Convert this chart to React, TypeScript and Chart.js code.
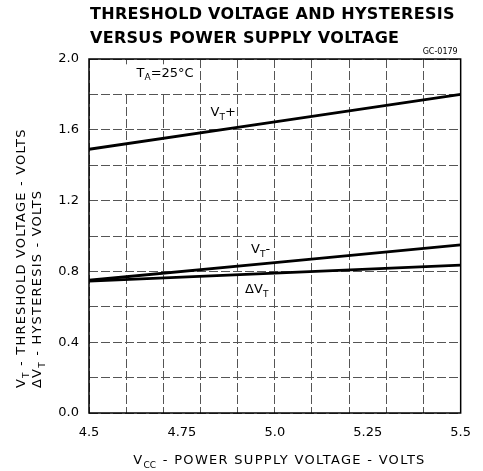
import React, { useEffect, useRef } from 'react';
import { Chart, registerables } from 'chart.js';
Chart.register(...registerables);

// ---- data ----
const vccPoints = [4.5, 5.0, 5.5];
const vtPlus = [1.49, 1.645, 1.8];
const vtMinus = [0.75, 0.85, 0.95];
const deltaVt = [0.745, 0.79, 0.835];

const xTickValues = [4.5, 4.75, 5.0, 5.25, 5.5];
const xTickLabels = ['4.5', '4.75', '5.0', '5.25', '5.5'];
const xGridValues = [4.5, 4.6, 4.7, 4.8, 4.9, 5.0, 5.1, 5.2, 5.3, 5.4, 5.5];
const yTickValues = [0, 0.4, 0.8, 1.2, 1.6, 2.0];
const yTickLabels = ['0.0', '0.4', '0.8', '1.2', '1.6', '2.0'];

const titleLines = ['THRESHOLD VOLTAGE AND HYSTERESIS', 'VERSUS POWER SUPPLY VOLTAGE'];

const FONT = '"DejaVu Sans", sans-serif';

type Seg = { t: string; sub?: boolean };

function setSpacing(ctx: any, sp: number) {
  if ('letterSpacing' in ctx) ctx.letterSpacing = `${sp}px`;
}

function richWidth(ctx: CanvasRenderingContext2D, segs: Seg[], size: number, weight = 'normal', sp = 0) {
  let w = 0;
  for (const s of segs) {
    setSpacing(ctx, s.sub ? 0 : sp);
    ctx.font = `${weight} ${s.sub ? Math.round(size * 0.72) : size}px ${FONT}`;
    w += ctx.measureText(s.t).width;
  }
  setSpacing(ctx, 0);
  return w;
}

function drawRich(ctx: CanvasRenderingContext2D, x: number, y: number, segs: Seg[], size: number, align: 'left' | 'center' = 'left', weight = 'normal', sp = 0) {
  let cx = x;
  if (align === 'center') cx = x - richWidth(ctx, segs, size, weight, sp) / 2;
  ctx.textAlign = 'left';
  ctx.textBaseline = 'middle';
  ctx.fillStyle = '#000';
  for (const s of segs) {
    setSpacing(ctx, s.sub ? 0 : sp);
    const fs = s.sub ? Math.round(size * 0.72) : size;
    ctx.font = `${weight} ${fs}px ${FONT}`;
    ctx.fillText(s.t, cx, s.sub ? y + size * 0.35 : y);
    cx += ctx.measureText(s.t).width + (s.sub ? sp : 0);
  }
  setSpacing(ctx, 0);
}

const near = (a: number, b: number) => Math.abs(a - b) < 1e-6;

const decor = {
  id: 'decor',
  beforeDraw(chart: any) {
    const ctx = chart.ctx;
    ctx.save();
    ctx.fillStyle = '#fff';
    ctx.fillRect(0, 0, chart.width, chart.height);
    ctx.restore();
  },
  beforeDatasetsDraw(chart: any) {
    const ctx = chart.ctx;
    const xs = chart.scales.x, ys = chart.scales.y;
    ctx.save();
    // T_A box
    const x0 = xs.getPixelForValue(4.55), x1 = xs.getPixelForValue(4.79);
    const y0 = ys.getPixelForValue(1.97), y1 = ys.getPixelForValue(1.81);
    ctx.fillStyle = '#fff';
    ctx.fillRect(x0, y0, x1 - x0, y1 - y0);
    drawRich(ctx, xs.getPixelForValue(4.628), ys.getPixelForValue(1.92), [{ t: 'T' }, { t: 'A', sub: true }, { t: '=25°C' }], 13);
    ctx.restore();
  },
  afterDatasetsDraw(chart: any) {
    const ctx = chart.ctx;
    const a = chart.chartArea;
    const xs = chart.scales.x, ys = chart.scales.y;
    ctx.save();
    // frame
    ctx.strokeStyle = '#000';
    ctx.lineWidth = 1.5;
    ctx.setLineDash([]);
    ctx.strokeRect(a.left, a.top, a.right - a.left, a.bottom - a.top);

    // curve labels
    drawRich(ctx, xs.getPixelForValue(4.827), ys.getPixelForValue(1.695), [{ t: 'V' }, { t: 'T', sub: true }, { t: '+' }], 13);
    drawRich(ctx, xs.getPixelForValue(4.936), ys.getPixelForValue(0.921), [{ t: 'V' }, { t: 'T', sub: true }, { t: '-' }], 13);
    drawRich(ctx, xs.getPixelForValue(4.92), ys.getPixelForValue(0.695), [{ t: 'ΔV' }, { t: 'T', sub: true }], 13);

    // code
    ctx.font = `8px ${FONT}`;
    ctx.textAlign = 'right';
    ctx.textBaseline = 'middle';
    ctx.fillStyle = '#000';
    ctx.fillText('GC-0179', a.right - 3, a.top - 7);

    // title
    drawRich(ctx, a.left + 1, 15, [{ t: titleLines[0] }], 16, 'left', 'bold', 0.3);
    drawRich(ctx, a.left + 1, 39, [{ t: titleLines[1] }], 16, 'left', 'bold', 0.3);

    // x title
    drawRich(ctx, (a.left + a.right) / 2 + 4, 461, [{ t: 'V' }, { t: 'CC', sub: true }, { t: ' - POWER SUPPLY VOLTAGE - VOLTS' }], 13, 'center', 'normal', 1.3);

    // y title
    ctx.save();
    ctx.translate(22, 388);
    ctx.rotate(-Math.PI / 2);
    drawRich(ctx, 0, 0, [{ t: 'V' }, { t: 'T', sub: true }, { t: ' - THRESHOLD VOLTAGE - VOLTS' }], 13, 'left', 'normal', 1.2);
    ctx.restore();
    ctx.save();
    ctx.translate(38, 388);
    ctx.rotate(-Math.PI / 2);
    drawRich(ctx, 0, 0, [{ t: 'ΔV' }, { t: 'T', sub: true }, { t: ' - HYSTERESIS - VOLTS' }], 13, 'left', 'normal', 1.2);
    ctx.restore();

    ctx.restore();
  },
};

export default function App() {
  const ref = useRef<HTMLCanvasElement>(null);
  useEffect(() => {
    document.body.style.margin = '0';
    const mk = (ys: number[]) => vccPoints.map((x, i) => ({ x, y: ys[i] }));
    const line = (label: string, ys: number[]) => ({
      label,
      data: mk(ys),
      borderColor: '#000',
      borderWidth: 2.8,
      pointRadius: 0,
      tension: 0,
      fill: false,
    });
    const chart = new Chart(ref.current!, {
      type: 'line',
      data: {
        datasets: [line('VT+', vtPlus), line('VT-', vtMinus), line('ΔVT', deltaVt)],
      },
      options: {
        animation: false,
        responsive: true,
        maintainAspectRatio: false,
        layout: { padding: { top: 59, right: 18, left: 0, bottom: 0 } },
        plugins: { legend: { display: false }, tooltip: { enabled: false }, title: { display: false } },
        scales: {
          x: {
            type: 'linear',
            min: 4.5,
            max: 5.5,
            afterFit: (s: any) => { s.height = 58; },
            afterBuildTicks: (s: any) => {
              const vals = Array.from(new Set([...xGridValues, ...xTickValues])).sort((a, b) => a - b);
              s.ticks = vals.map((v) => ({ value: v }));
            },
            ticks: {
              autoSkip: false,
              maxRotation: 0,
              padding: 12,
              color: '#000',
              font: { family: FONT, size: 13 },
              callback: (v: any) => {
                const i = xTickValues.findIndex((t) => near(t, Number(v)));
                return i >= 0 ? xTickLabels[i] : '';
              },
            },
            grid: {
              drawTicks: false,
              color: (c: any) => (xGridValues.some((g) => near(g, c.tick?.value)) ? '#555' : 'rgba(0,0,0,0)'),
              lineWidth: 1,
            },
            border: { display: false, dash: [9, 3] },
          },
          y: {
            type: 'linear',
            min: 0,
            max: 2,
            afterFit: (s: any) => { s.width = 89; },
            ticks: {
              stepSize: 0.2,
              padding: 10,
              color: '#000',
              font: { family: FONT, size: 13 },
              callback: (v: any) => {
                const i = yTickValues.findIndex((t) => near(t, Number(v)));
                return i >= 0 ? yTickLabels[i] : '';
              },
            },
            grid: { drawTicks: false, color: '#555', lineWidth: 1 },
            border: { display: false, dash: [9, 3] },
          },
        },
      },
      plugins: [decor],
    });
    return () => chart.destroy();
  }, []);
  return (
    <div style={{ width: 483, height: 471, position: 'relative' }}>
      <canvas ref={ref} />
    </div>
  );
}
